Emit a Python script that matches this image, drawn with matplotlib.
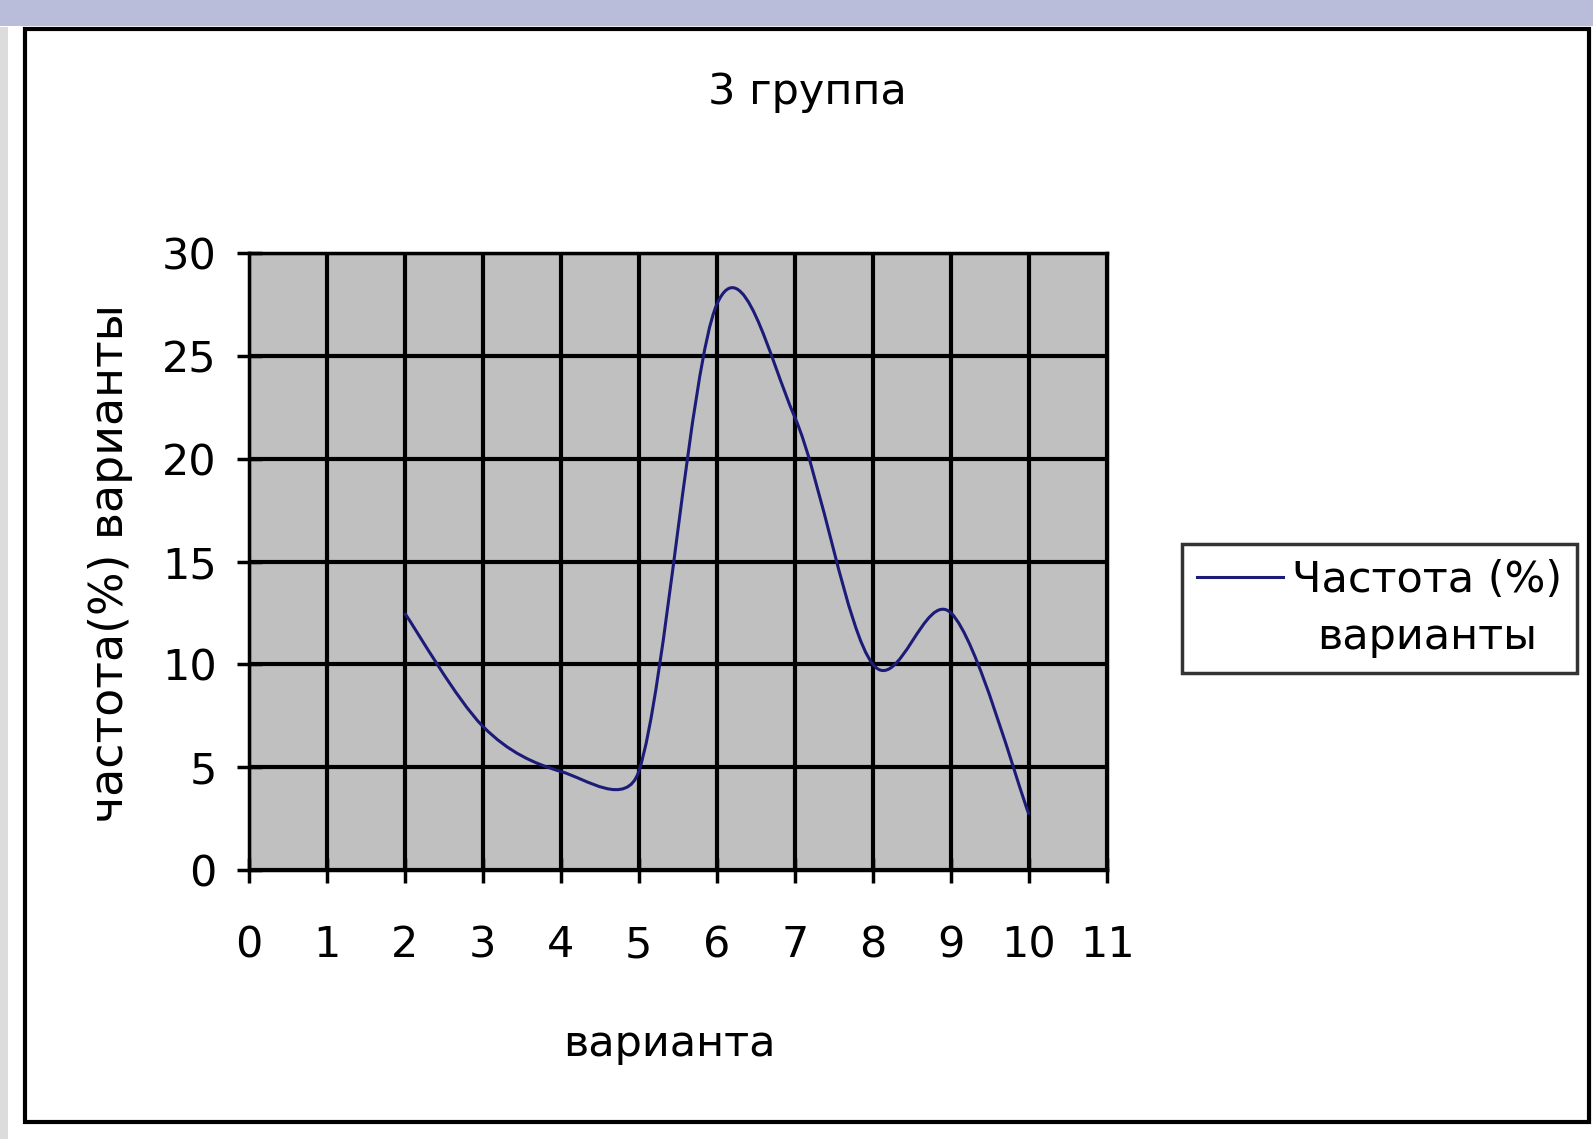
import numpy as np
import matplotlib
matplotlib.use("Agg")
import matplotlib.pyplot as plt
from matplotlib.path import Path
from matplotlib.patches import PathPatch, Rectangle
from matplotlib.lines import Line2D
from matplotlib.legend_handler import HandlerLine2D

# data
variants = [2, 3, 4, 5, 6, 7, 8, 9, 10]
freq_pct = [12.5, 7.0, 4.8, 4.8, 27.5, 22.0, 10.0, 12.5, 2.7]
x_ticks = list(range(0, 12))
y_ticks = [0, 5, 10, 15, 20, 25, 30]

title = "3 группа"
x_label = "варианта"
y_label = "частота(%) варианты"
legend_label = "Частота (%)\nварианты"

plt.rcParams['font.family'] = ['Liberation Sans Narrow', 'DejaVu Sans']
FS = 31
LINE_COLOR = "#1c1c78"


def excel_smooth_path(xs, ys, sx, sy, tension=1 / 6):
    # bezier segments like Excel's "smoothed line", handles capped at half a segment
    p = np.column_stack([xs, ys]).astype(float)
    scale = np.array([sx, sy])
    n = len(p)
    verts = [p[0]]
    codes = [Path.MOVETO]
    for i in range(n - 1):
        p0 = p[i - 1] if i > 0 else p[i]
        p1, p2 = p[i], p[i + 1]
        p3 = p[i + 2] if i + 2 < n else p[i + 1]
        d12 = np.hypot(*((p2 - p1) * scale))
        d02 = np.hypot(*((p2 - p0) * scale))
        d13 = np.hypot(*((p3 - p1) * scale))
        f1 = tension if d02 * tension < d12 / 2 else d12 / (2 * d02)
        f2 = tension if d13 * tension < d12 / 2 else d12 / (2 * d13)
        c1 = p1 + (p2 - p0) * f1
        c2 = p2 - (p3 - p1) * f2
        verts += [c1, c2, p2]
        codes += [Path.CURVE4] * 3
    return Path(verts, codes)


class RaisedLine(HandlerLine2D):
    # legend sample sits on the first text line, like Excel does it
    def create_artists(self, legend, orig_handle, xdescent, ydescent, width, height, fontsize, trans):
        arts = super().create_artists(legend, orig_handle, xdescent, ydescent, width, height, fontsize, trans)
        for a in arts:
            a.set_ydata(np.asarray(a.get_ydata()) + 0.75 * fontsize)
        return arts


fig = plt.figure(figsize=(15.93, 11.39), dpi=100)
fig.patch.set_facecolor("white")

# slide bits around the pasted chart
fig.patches.append(Rectangle((0, 0.977), 1, 0.023, transform=fig.transFigure,
                             facecolor="#b9bdda", edgecolor="none", zorder=0))
fig.patches.append(Rectangle((0, 0), 0.005, 0.976, transform=fig.transFigure,
                             facecolor="#dcdcdc", edgecolor="none", zorder=0))
fig.patches.append(Rectangle((0.0157, 0.0149), 0.982, 0.9596, transform=fig.transFigure,
                             facecolor="none", edgecolor="black", linewidth=3, zorder=1))

ax = fig.add_axes([0.156, 0.236, 0.539, 0.542])
ax.set_facecolor("#c0c0c0")
ax.set_xlim(0, 11)
ax.set_ylim(0, 30)
ax.set_xticks(x_ticks)
ax.set_yticks(y_ticks)
ax.grid(True, color="black", linewidth=3)
ax.set_axisbelow(True)
for s in ax.spines.values():
    s.set_color("black")
    s.set_linewidth(2.5)
ax.tick_params(axis="both", direction="inout", length=18, width=2.5, labelsize=FS)
ax.tick_params(axis="x", pad=30)
ax.tick_params(axis="y", pad=14)

bb = ax.get_window_extent()
sx = bb.width / 11
sy = bb.height / 30
curve = excel_smooth_path(variants, freq_pct, sx, sy)
ax.add_patch(PathPatch(curve, facecolor="none", edgecolor=LINE_COLOR, linewidth=2.2, zorder=3))

ax.set_xlabel(x_label, fontsize=FS)
ax.xaxis.set_label_coords(0.49, -0.247)
ax.set_ylabel(y_label, fontsize=33)
ax.yaxis.set_label_coords(-0.135, 0.496)

fig.text(0.507, 0.919, title, fontsize=FS, ha="center", va="center")

handle = Line2D([], [], color=LINE_COLOR, linewidth=2.2)
leg = fig.legend([handle], [legend_label], loc="center", bbox_to_anchor=(0.866, 0.466),
                 fontsize=FS, frameon=True, fancybox=False, handlelength=2.0,
                 handletextpad=0.2, borderpad=0.35, borderaxespad=0,
                 handler_map={Line2D: RaisedLine()})
leg.get_frame().set_edgecolor("black")
leg.get_frame().set_linewidth(2.5)
for t in leg.get_texts():
    t.set_multialignment("center")
    t.set_linespacing(1.45)

fig.savefig("out.png", dpi=100)
